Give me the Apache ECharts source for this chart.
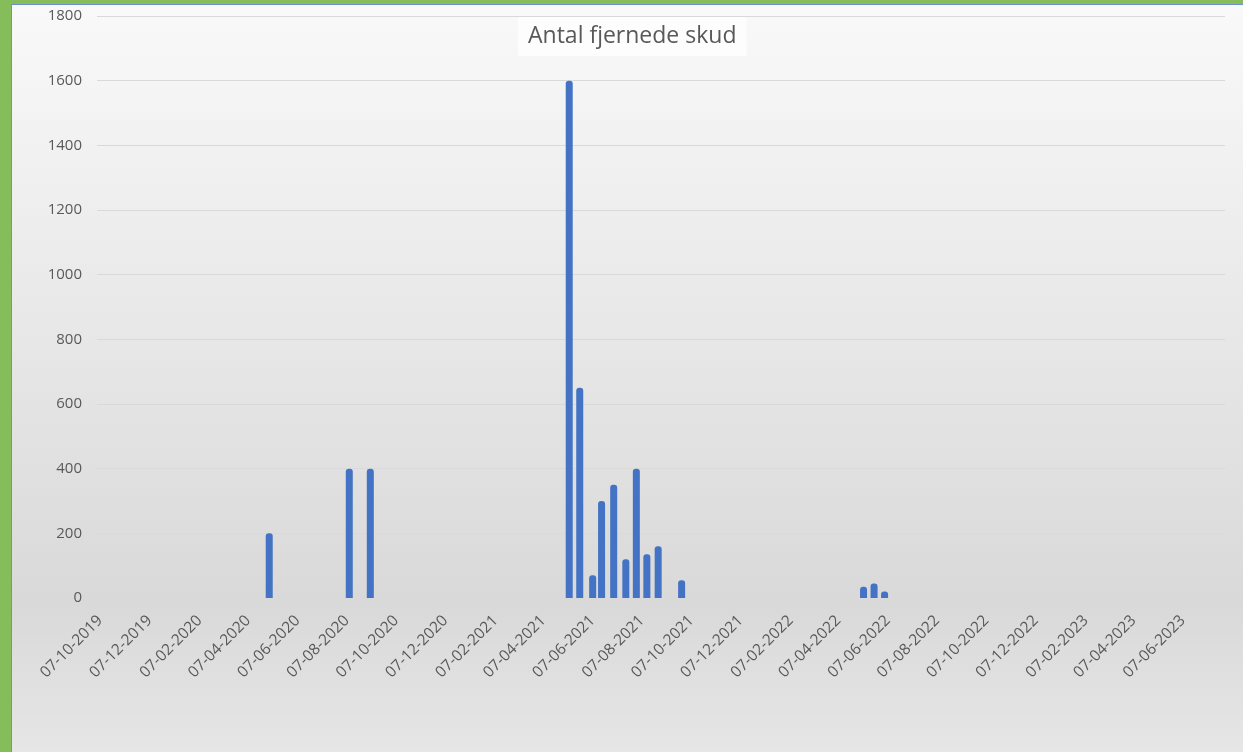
<!DOCTYPE html>
<html>
<head>
<meta charset="utf-8">
<script src="https://cdn.jsdelivr.net/npm/echarts@6/dist/echarts.min.js"></script>
<style>
  html, body { margin: 0; padding: 0; width: 1243px; height: 752px; overflow: hidden; background: #84bd5a; }
  #chart { position: absolute; left: 11px; top: 4px; width: 1231px; height: 747px; border-left: 1px solid #6f8fd0; border-top: 1px solid #6f8fd0; }
</style>
</head>
<body>
<div id="chart"></div>
<script>
// ---- data ----
const title = 'Antal fjernede skud';
const dates = ['2020-05-03','2020-08-10','2020-09-05','2021-05-09','2021-05-22','2021-06-07','2021-06-18','2021-07-03','2021-07-18','2021-07-31','2021-08-13','2021-08-27','2021-09-25','2022-05-08','2022-05-21','2022-06-03'];
const values = [200, 400, 400, 1600, 650, 70, 300, 350, 120, 400, 135, 160, 55, 35, 45, 20];
const tickLabels = ['07-10-2019','07-12-2019','07-02-2020','07-04-2020','07-06-2020','07-08-2020','07-10-2020','07-12-2020','07-02-2021','07-04-2021','07-06-2021','07-08-2021','07-10-2021','07-12-2021','07-02-2022','07-04-2022','07-06-2022','07-08-2022','07-10-2022','07-12-2022','07-02-2023','07-04-2023','07-06-2023'];
const axisMinDate = '2019-10-03';
const axisMaxDate = '2023-07-29';
const yTicks = { min: 0, max: 1800, interval: 200 };

// ---- helpers ----
const DAY = 86400000;
function isoToTs(s) { const p = s.split('-').map(Number); return Date.UTC(p[0], p[1] - 1, p[2]); }
function dmyToTs(s) { const p = s.split('-').map(Number); return Date.UTC(p[2], p[1] - 1, p[0]); }
function pad(n) { return (n < 10 ? '0' : '') + n; }
function fmt(ts) { const d = new Date(Math.round(ts / DAY) * DAY); return pad(d.getUTCDate()) + '-' + pad(d.getUTCMonth() + 1) + '-' + d.getUTCFullYear(); }

const tickValues = tickLabels.map(dmyToTs);
const seriesData = dates.map((d, i) => [isoToTs(d), values[i]]);

const chart = echarts.init(document.getElementById('chart'), null, { renderer: 'canvas' });
const font = '"Open Sans", "Noto Sans", sans-serif';
chart.setOption({
  animation: false,
  backgroundColor: {
    type: 'linear', x: 0, y: 0, x2: 0, y2: 1,
    colorStops: [
      { offset: 0, color: '#f9f9f9' },
      { offset: 0.8, color: '#d9d9d9' },
      { offset: 1, color: '#e6e6e6' }
    ]
  },
  title: {
    text: title,
    left: 506,
    top: 12,
    padding: [8, 10, 8, 10],
    backgroundColor: '#fdfdfd',
    textStyle: { fontFamily: font, fontSize: 23, fontWeight: 'normal', color: '#595959' }
  },
  grid: { left: 85, right: 18, top: 11, bottom: 154, containLabel: false },
  xAxis: {
    type: 'value',
    min: isoToTs(axisMinDate),
    max: isoToTs(axisMaxDate),
    axisLine: { show: false },
    axisTick: { show: false },
    splitLine: { show: false },
    axisLabel: {
      customValues: tickValues,
      rotate: 45,
      margin: 20,
      color: '#595959',
      fontFamily: font,
      fontSize: 15.5,
      formatter: function (v) { return fmt(v); },
      hideOverlap: false,
      showMinLabel: true,
      showMaxLabel: true
    }
  },
  yAxis: {
    type: 'value',
    min: yTicks.min,
    max: yTicks.max,
    interval: yTicks.interval,
    axisLine: { show: false },
    axisTick: { show: false },
    splitLine: { lineStyle: { color: '#d9d9d9', width: 1 } },
    axisLabel: { color: '#595959', fontFamily: font, fontSize: 15, margin: 15, formatter: function (v) { return String(v); } }
  },
  series: [{
    type: 'bar',
    data: seriesData,
    barWidth: 7,
    itemStyle: { color: '#4472c4', borderRadius: [3, 3, 0, 0] }
  }]
});
</script>
</body>
</html>
